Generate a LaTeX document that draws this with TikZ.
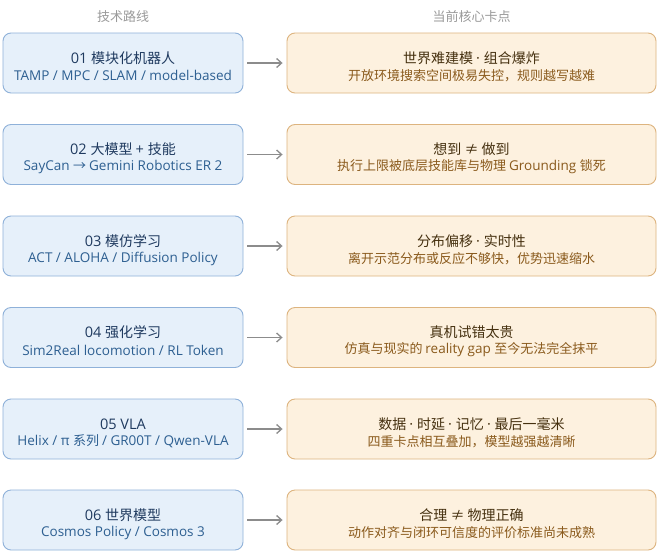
\documentclass[tikz,border=0pt]{standalone}
\usepackage{fontspec}
\setmainfont[Scale=1.04]{Open Sans}
\newfontfamily\cjkf{Noto Sans CJK SC}
\newfontfamily\latf[Scale=1.04]{Open Sans}
\XeTeXinterchartokenstate=1
\newXeTeXintercharclass\CJKcls
\newcount\tmpc
\tmpc="4E00
\loop \XeTeXcharclass\tmpc=\CJKcls \advance\tmpc 1 \ifnum\tmpc<"A000 \repeat
\tmpc="3000
\loop \XeTeXcharclass\tmpc=\CJKcls \advance\tmpc 1 \ifnum\tmpc<"3040 \repeat
\tmpc="FF00
\loop \XeTeXcharclass\tmpc=\CJKcls \advance\tmpc 1 \ifnum\tmpc<"FFF0 \repeat
\XeTeXcharclass"2192=\CJKcls
\XeTeXcharclass"2260=\CJKcls
\XeTeXinterchartoks 0 \CJKcls = {\cjkf}
\XeTeXinterchartoks 4095 \CJKcls = {\cjkf}
\XeTeXinterchartoks \CJKcls 0 = {\latf}
\XeTeXinterchartoks 4095 0 = {\latf}
\usetikzlibrary{arrows.meta}
\definecolor{lfill}{HTML}{E6F0FA}
\definecolor{ldraw}{HTML}{8FB1D9}
\definecolor{ltitle}{HTML}{1F3A5F}
\definecolor{lsub}{HTML}{2D5F91}
\definecolor{rfill}{HTML}{FDF1DF}
\definecolor{rdraw}{HTML}{DDB47F}
\definecolor{rtitle}{HTML}{45300F}
\definecolor{rsub}{HTML}{8A5A1C}
\definecolor{hdrgray}{HTML}{9A9A9A}
\definecolor{arrgray}{HTML}{8C8C8C}
\tikzset{
  lbox/.style={draw=ldraw, fill=lfill, line width=0.9pt, rounded corners=8pt, minimum width=240pt, minimum height=60pt, inner sep=0pt},
  rbox/.style={draw=rdraw, fill=rfill, line width=0.9pt, rounded corners=8pt, minimum width=369pt, minimum height=60pt, inner sep=0pt},
  ltit/.style={text=ltitle, font=\fontsize{14}{16}\selectfont, inner sep=0pt},
  lsubt/.style={text=lsub, font=\fontsize{13}{15}\selectfont, inner sep=0pt},
  rtit/.style={text=rtitle, font=\fontsize{14}{16}\selectfont, inner sep=0pt},
  rsubt/.style={text=rsub, font=\fontsize{13}{15}\selectfont, inner sep=0pt},
  hdr/.style={text=hdrgray, font=\fontsize{13}{15}\selectfont, inner sep=0pt},
  arr/.style={draw=arrgray, line width=1.3pt, -{Straight Barb[length=5pt,width=9pt]}, shorten <=4pt, shorten >=4pt}
}
\newcommand{\myrow}[6]{%
  \node[lbox] (L#1) at (123,#2) {};
  \node[ltit] (LT#1) at ([yshift=5pt]L#1.center) {#3};
  \node[lsubt] (LS#1) at ([yshift=-12.5pt]L#1.center) {#4};
  \node[rbox] (R#1) at (471.5,#2) {};
  \node[rtit] (RT#1) at ([yshift=5pt]R#1.center) {#5};
  \node[rsubt] (RS#1) at ([yshift=-12.5pt]R#1.center) {#6};
  \draw[arr] (L#1) -- (R#1);
}
\begin{document}
\begin{tikzpicture}[x=1pt,y=-1pt]
\fill[white] (0,0) rectangle (659,555);
\useasboundingbox (0,0) rectangle (659,555);
\node[hdr] (H1) at (123,17) {技术路线};
\node[hdr] (H2) at (471.5,17) {当前核心卡点};
\myrow{1}{63}{01 模块化机器人}{TAMP / MPC / SLAM / model-based}{世界难建模 · 组合爆炸}{开放环境搜索空间极易失控，规则越写越难}
\myrow{2}{154.5}{02 大模型 + 技能}{SayCan → Gemini Robotics ER 2}{想到 ≠ 做到}{执行上限被底层技能库与物理 Grounding 锁死}
\myrow{3}{246}{03 模仿学习}{ACT / ALOHA / Diffusion Policy}{分布偏移 · 实时性}{离开示范分布或反应不够快，优势迅速缩水}
\myrow{4}{337.5}{04 强化学习}{Sim2Real locomotion / RL Token}{真机试错太贵}{仿真与现实的 reality gap 至今无法完全抹平}
\myrow{5}{429}{05 VLA}{Helix / π 系列 / GR00T / Qwen-VLA}{数据 · 时延 · 记忆 · 最后一毫米}{四重卡点相互叠加，模型越强越清晰}
\myrow{6}{520}{06 世界模型}{Cosmos Policy / Cosmos 3}{合理 ≠ 物理正确}{动作对齐与闭环可信度的评价标准尚未成熟}
\end{tikzpicture}
\end{document}
